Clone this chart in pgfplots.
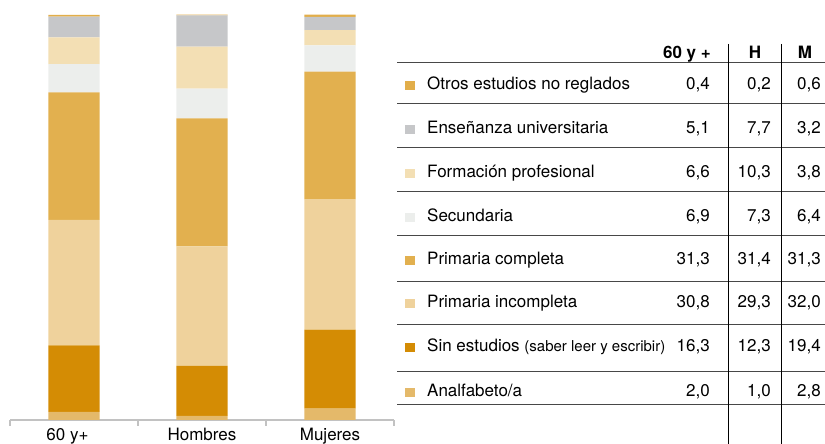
\documentclass[border=0pt]{standalone}
\usepackage{pgfplots}
\pgfplotsset{compat=1.18}
\usepackage{fontspec}
\setmainfont{TeX Gyre Heros}
\definecolor{cOtros}{HTML}{E2AE4A}
\definecolor{cUniv}{HTML}{C6C7C9}
\definecolor{cFP}{HTML}{F3DFB4}
\definecolor{cSec}{HTML}{ECEEEC}
\definecolor{cPC}{HTML}{E2B04F}
\definecolor{cPI}{HTML}{EFD29C}
\definecolor{cSin}{HTML}{D48C04}
\definecolor{cAnal}{HTML}{E4B96A}
\definecolor{axgray}{HTML}{C2C2C2}
\newcommand{\trow}[6]{%
  \fill[#1] (405,#6-0.5) rectangle (414.5,#6+9);
  \node[anchor=base west, inner sep=0] at (427,#6) {#2};
  \node[anchor=base east, inner sep=0] at (710,#6) {#3};
  \node[anchor=base east, inner sep=0] at (771,#6) {#4};
  \node[anchor=base east, inner sep=0] at (821,#6) {#5};
}
\begin{document}
\fontsize{17bp}{20bp}\selectfont
\begin{tikzpicture}[x=1bp,y=1bp]
\useasboundingbox (0,0) rectangle (825,444);
\begin{axis}[
  at={(10bp,24bp)}, anchor=south west,
  scale only axis, width=384bp, height=407.5bp,
  xmin=-0.5, xmax=2.5, ymin=0, ymax=100,
  ybar stacked, bar width=0.4,
  axis x line*=bottom, axis y line=none,
  x axis line style={color=axgray, line width=1.3bp},
  xtick={0,1,2},
  xticklabels={60 y+\hspace*{13bp}, Hombres, Mujeres},
  major x tick style={draw=none},
  minor xtick={-0.5,0.5,1.5,2.5},
  minor x tick style={color=axgray, line width=1.3bp},
  minor tick length=6bp,
  xtick align=outside,
  xticklabel style={anchor=base, yshift=-16bp, font=\fontsize{17bp}{20bp}\selectfont},
  clip=false,
]
\addplot[fill=cAnal, draw=none] coordinates {(0,2.0) (1,1.0) (2,2.8)};
\addplot[fill=cSin, draw=none] coordinates {(0,16.3) (1,12.3) (2,19.4)};
\addplot[fill=cPI, draw=none] coordinates {(0,30.8) (1,29.3) (2,32.0)};
\addplot[fill=cPC, draw=none] coordinates {(0,31.3) (1,31.4) (2,31.3)};
\addplot[fill=cSec, draw=none] coordinates {(0,6.9) (1,7.3) (2,6.4)};
\addplot[fill=cFP, draw=none] coordinates {(0,6.6) (1,10.3) (2,3.8)};
\addplot[fill=cUniv, draw=none] coordinates {(0,5.1) (1,7.7) (2,3.2)};
\addplot[fill=cOtros, draw=none] coordinates {(0,0.4) (1,0.2) (2,0.6)};
\end{axis}
% table
\foreach \yy in {381,340,296,252,208,162,119,72,39}
  \draw[black!72, line width=1bp] (397,\yy) -- (825,\yy);
\draw[black, line width=1bp] (728,400) -- (728,0);
\draw[black, line width=1bp] (781,400) -- (781,0);
\node[anchor=base east, inner sep=0, font=\bfseries] at (711,385.7) {60 y +};
\node[anchor=base, inner sep=0, font=\bfseries] at (755,385.7) {H};
\node[anchor=base, inner sep=0, font=\bfseries] at (805,385.7) {M};
\trow{cOtros}{Otros estudios no reglados}{0,4}{0,2}{0,6}{354}
\trow{cUniv}{Enseñanza universitaria}{5,1}{7,7}{3,2}{310}
\trow{cFP}{Formación profesional}{6,6}{10,3}{3,8}{266}
\trow{cSec}{Secundaria}{6,9}{7,3}{6,4}{222}
\trow{cPC}{Primaria completa}{31,3}{31,4}{31,3}{179}
\trow{cPI}{Primaria incompleta}{30,8}{29,3}{32,0}{136}
\trow{cSin}{Sin estudios {\fontsize{15bp}{18bp}\selectfont(saber leer y escribir)}}{16,3}{12,3}{19,4}{92}
\trow{cAnal}{Analfabeto/a}{2,0}{1,0}{2,8}{47}
\end{tikzpicture}
\end{document}
